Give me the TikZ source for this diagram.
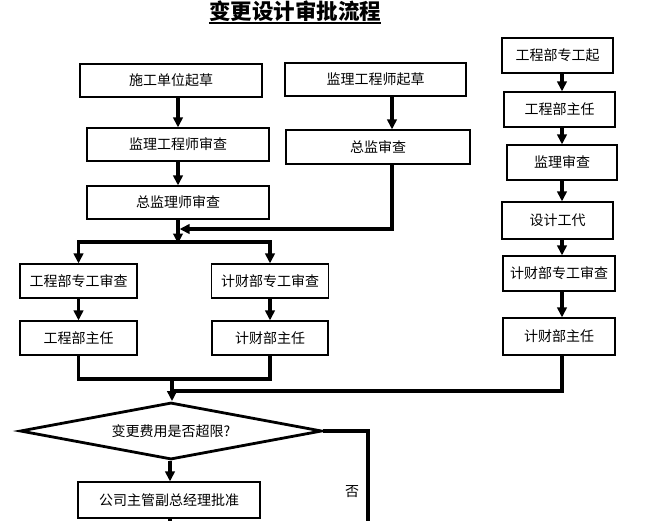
\documentclass[tikz,border=0pt]{standalone}
\usepackage{fontspec}
\usetikzlibrary{arrows.meta,shapes.geometric}
\newfontfamily\cjk{Noto Sans CJK SC}
\tikzset{
  box/.style={draw, line width=1.2pt, inner sep=0pt, font=\cjk\fontsize{14}{14}\selectfont},
  flow/.style={line width=3.2pt, -{Triangle[length=10pt,width=9.5pt]}},
  line/.style={line width=3.2pt},
}

\begin{document}
\begin{tikzpicture}[x=1pt,y=-1pt]

\useasboundingbox (0,0) rectangle (653,520);

\node[font=\cjk\bfseries\fontsize{21.5}{21.5}\selectfont,inner sep=0pt] (title) at (295,11.5) {变更设计审批流程};
\draw[line width=1.5pt] ([yshift=-3pt]title.base west) -- ([yshift=-3pt]title.base east);

% left column
\node[box,minimum width=182pt,minimum height=33pt] (sgqc) at (171,80.5) {施工单位起草};
\node[box,minimum width=182pt,minimum height=33pt] (jlsc) at (178,144.5) {监理工程师审查};
\node[box,minimum width=182pt,minimum height=33pt] (zjlsc) at (178,202.5) {总监理师审查};

\node[box,minimum width=181pt,minimum height=33pt] (jlqc) at (375.5,79.5) {监理工程师起草};
\node[box,minimum width=184pt,minimum height=34pt] (zjsc) at (378,147) {总监审查};

\node[box,minimum width=117pt,minimum height=34pt] (gczs) at (78.5,281) {工程部专工审查};
\node[box,minimum width=117pt,minimum height=34pt] (jczs) at (270,281) {计财部专工审查};
\node[box,minimum width=117pt,minimum height=34pt] (gczr) at (78.5,338) {工程部主任};
\node[box,minimum width=116pt,minimum height=34pt] (jczr) at (270,338) {计财部主任};

% right column
\node[box,minimum width=111pt,minimum height=35pt] (rgq) at (557.5,55.5) {工程部专工起};
\node[box,minimum width=111pt,minimum height=35pt] (rgzr) at (559.5,109.5) {工程部主任};
\node[box,minimum width=110pt,minimum height=35pt] (rjs) at (562,162.5) {监理审查};
\node[box,minimum width=111pt,minimum height=37pt] (rsj) at (557.5,220.5) {设计工代};
\node[box,minimum width=112pt,minimum height=35pt] (rjzs) at (559,273.5) {计财部专工审查};
\node[box,minimum width=112pt,minimum height=37pt] (rjzr) at (559,336.5) {计财部主任};

% decision
\node[draw,diamond,aspect=5.3,line width=2.8pt,inner sep=0pt,minimum width=302pt,minimum height=57pt,
  font=\cjk\fontsize{14}{14}\selectfont] (fy) at (171,431) {变更费用是否超限?};
\node[box,minimum width=182pt,minimum height=36pt] (gspz) at (169,500) {公司主管副总经理批准};
\node[font=\cjk\fontsize{14}{14}\selectfont] (fou) at (352,492) {否};

\coordinate (br) at (178,242);
\coordinate (zj) at (392,229);
\coordinate (mg) at (172,379);
\coordinate (mg2) at (172,391);
\coordinate (rx) at (562,0);
\coordinate (dn) at (170,525);
\coordinate (no) at (368,525);

\draw[flow] (sgqc.south -| jlsc.north) -- (jlsc.north);
\draw[flow] (jlsc) -- (zjlsc);
\draw[flow] (zjlsc.south) -- ([yshift=-1.5pt]br);
\draw[flow] (jlqc.south -| zj) -- (zjsc.north -| zj);
\draw[flow,shorten >=1.6pt] (zjsc.south -| zj) -- (zj) -- (zj -| br);

\draw[flow] (br) -| (gczs.north);
\draw[flow] (br) -| (jczs.north);
\draw[flow] (gczs) -- (gczr);
\draw[flow] (jczs) -- (jczr);

\draw[flow] (rgq.south -| rx) -- (rgzr.north -| rx);
\draw[flow] (rgzr.south -| rx) -- (rjs.north -| rx);
\draw[flow] (rjs.south -| rx) -- (rsj.north -| rx);
\draw[flow] (rsj.south -| rx) -- (rjzs.north -| rx);
\draw[flow] (rjzs.south -| rx) -- (rjzr.north -| rx);

\draw[line] (gczr.south) |- (jczr.south |- mg) -- (jczr.south);
\draw[line] (rjzr.south -| rx) |- (mg2);
\draw[flow] (mg) -- (mg |- fy.north);

\draw[flow] (fy.south -| dn) -- (gspz.north -| dn);
\draw[line] (gspz.south -| dn) -- (dn);
\draw[line] (fy.east) -| (no);

\end{tikzpicture}
\end{document}
